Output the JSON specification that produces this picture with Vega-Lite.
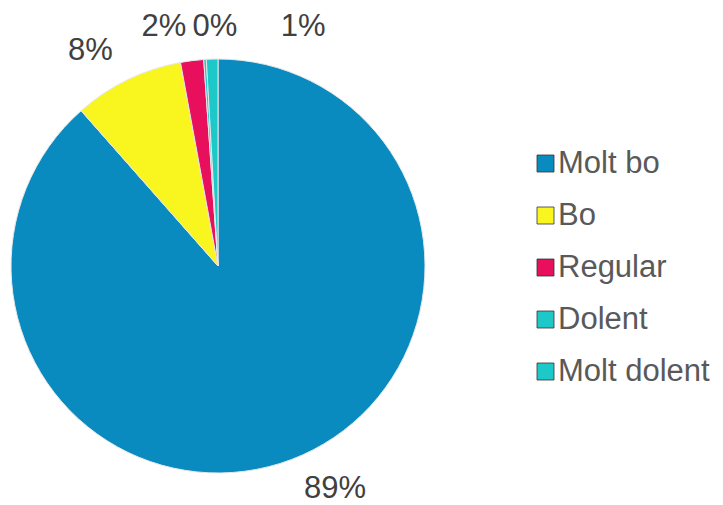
{
  "$schema": "https://vega.github.io/schema/vega-lite/v6.json",
  "width": 436,
  "height": 414,
  "autosize": "none",
  "padding": {"left": 0, "top": 59, "right": 287, "bottom": 32},
  "background": "white",
  "data": {"values": [
    {"cat": "Molt bo", "value": 88.5, "order": 1, "label": "89%"},
    {"cat": "Bo", "value": 8.6, "order": 2, "label": "8%"},
    {"cat": "Regular", "value": 1.8, "order": 3, "label": "2%"},
    {"cat": "Dolent", "value": 0.2, "order": 4, "label": "0%"},
    {"cat": "Molt dolent", "value": 0.9, "order": 5, "label": "1%"}
  ]},
  "encoding": {
    "theta": {"field": "value", "type": "quantitative", "stack": true},
    "order": {"field": "order", "type": "quantitative"}
  },
  "layer": [
    {
      "mark": {"type": "arc", "outerRadius": 207, "stroke": "#e8e8e8", "strokeWidth": 1},
      "encoding": {
        "color": {
          "field": "cat", "type": "nominal",
          "scale": {
            "domain": ["Molt bo", "Bo", "Regular", "Dolent", "Molt dolent"],
            "range": ["#0A8BC0", "#F8F51F", "#E8105C", "#1CC8C8", "#1CC8C8"]
          },
          "legend": {
            "title": null,
            "orient": "none",
            "legendX": 530,
            "legendY": 89,
            "symbolType": "square",
            "symbolSize": 289,
            "symbolStrokeColor": "#333333",
            "symbolStrokeWidth": 0.8,
            "labelFontSize": 31,
            "labelFont": "Liberation Sans",
            "labelColor": "#595959",
            "labelLimit": 300,
            "labelOffset": -3,
            "rowPadding": 20
          }
        }
      }
    },
    {
      "mark": {"type": "text", "radius": 238, "font": "Liberation Sans", "fontSize": 31, "fill": "#404040", "dx": 33},
      "encoding": {"text": {"condition": {"test": "datum.cat == 'Molt bo'", "field": "label"}, "value": ""}}
    },
    {
      "mark": {"type": "text", "radius": 239, "font": "Liberation Sans", "fontSize": 31, "fill": "#404040", "dx": -23},
      "encoding": {"text": {"condition": {"test": "datum.cat == 'Bo'", "field": "label"}, "value": ""}}
    },
    {
      "mark": {"type": "text", "radius": 241, "font": "Liberation Sans", "fontSize": 31, "fill": "#404040", "dx": -24},
      "encoding": {"text": {"condition": {"test": "datum.cat == 'Regular'", "field": "label"}, "value": ""}}
    },
    {
      "mark": {"type": "text", "radius": 239, "font": "Liberation Sans", "fontSize": 31, "fill": "#404040", "dx": 12},
      "encoding": {"text": {"condition": {"test": "datum.cat == 'Dolent'", "field": "label"}, "value": ""}}
    },
    {
      "mark": {"type": "text", "radius": 239, "font": "Liberation Sans", "fontSize": 31, "fill": "#404040", "dx": 92},
      "encoding": {"text": {"condition": {"test": "datum.cat == 'Molt dolent'", "field": "label"}, "value": ""}}
    }
  ]
}
